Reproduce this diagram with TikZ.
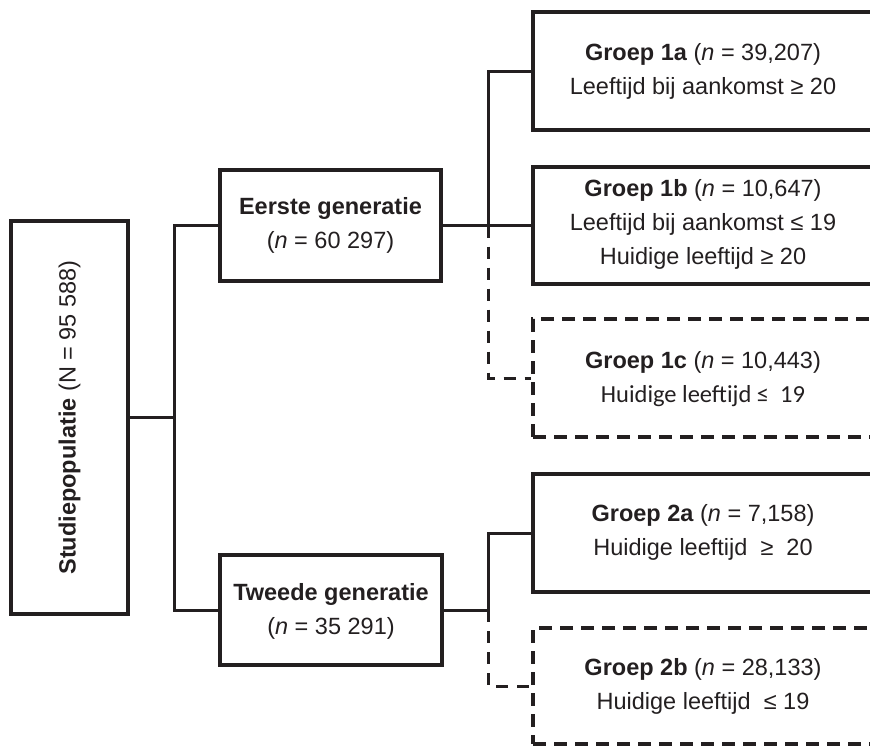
\documentclass[tikz,border=0pt]{standalone}
\usepackage{fontspec}
\setmainfont{Liberation Sans}
\newfontfamily\calib{Carlito}
\definecolor{ink}{HTML}{231F20}
\begin{document}
\begin{tikzpicture}[x=1pt,y=-1pt,
  box/.style={draw=ink, line width=3.2pt, rectangle, inner sep=0pt},
  dbox/.style={box, dash pattern=on 13pt off 8pt},
  txt/.style={align=center, text=ink, inner sep=0pt, font=\fontsize{23.5}{34}\selectfont},
  conn/.style={draw=ink, line width=3pt},
  dconn/.style={conn, dash pattern=on 12pt off 9pt}]
\useasboundingbox (0,0) rectangle (870,745);
\begin{scope}
\clip (0,0) rectangle (870,745);
% boxes
\node[box, minimum width=117pt, minimum height=393pt] (stud) at (69.5,417.5) {};
\node[txt, rotate=90] (studt) at (69.5,417.5) {\textbf{Studiepopulatie} (N = 95 588)};
\node[box, minimum width=221pt, minimum height=111pt] (eg) at (330.5,225.5) {};
\node[txt] (egt) at (330.5,225.5) {\textbf{Eerste generatie}\\(\textit{n} = 60 297)};
\node[box, minimum width=222pt, minimum height=110pt] (tg) at (331,610) {};
\node[txt] (tgt) at (331,611) {\textbf{Tweede generatie}\\(\textit{n} = 35 291)};
\node[box, minimum width=340pt, minimum height=118pt] (g1a) at (703,71) {};
\node[txt] (g1at) at (703,71.5) {\textbf{Groep 1a} (\textit{n} = 39,207)\\Leeftijd bij aankomst ≥ 20};
\node[box, minimum width=340pt, minimum height=117pt] (g1b) at (703,225.5) {};
\node[txt] (g1bt) at (703,224.5) {\textbf{Groep 1b} (\textit{n} = 10,647)\\Leeftijd bij aankomst ≤ 19\\Huidige leeftijd ≥ 20};
\node[dbox, minimum width=340pt, minimum height=118pt] (g1c) at (703,378) {};
\node[txt] (g1ct) at (703,379) {\textbf{Groep 1c} (\textit{n} = 10,443)\\{\calib\fontsize{24.5}{34}\selectfont Huidige leeftijd ≤\ \ 19}};
\node[box, minimum width=340pt, minimum height=118pt] (g2a) at (703,533) {};
\node[txt] (g2at) at (703,532.5) {\textbf{Groep 2a} (\textit{n} = 7,158)\\Huidige leeftijd\ \ ≥\ \ 20};
\node[dbox, minimum width=340pt, minimum height=116pt] (g2b) at (703,686) {};
\node[txt] (g2bt) at (703,686.5) {\textbf{Groep 2b} (\textit{n} = 28,133)\\Huidige leeftijd\ \ ≤ 19};
% junctions
\coordinate (j0) at (174,417.5);
\coordinate (j1) at (488,225.5);
\coordinate (j2) at (488,610);
% connectors
\draw[conn] (stud.east) -- (j0);
\draw[conn] (eg.west) -| (j0) |- (tg.west);
\draw[conn] (eg.east) -- (g1b.west);
\draw[conn] (j1) |- (g1a.west);
\draw[dconn] (j1) |- (g1c.west);
\draw[conn] (tg.east) -- (j2);
\draw[conn] (j2) |- (g2a.west);
\draw[dconn] (j2) |- (g2b.west);
\end{scope}
\end{tikzpicture}
\end{document}
